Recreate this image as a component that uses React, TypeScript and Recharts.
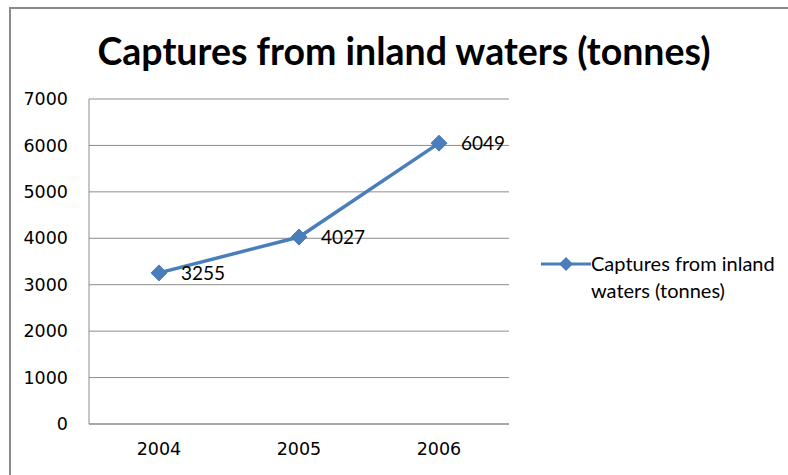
import { LineChart, Line, XAxis, YAxis, CartesianGrid, LabelList } from 'recharts';

const years = ['2004', '2005', '2006'];
const captures = [3255, 4027, 6049];
const yTicks = [0, 1000, 2000, 3000, 4000, 5000, 6000, 7000];

const SERIES_NAME = 'Captures from inland waters (tonnes)';
const BLUE = '#4A7EBB';

const data = years.map((year, i) => ({ year, value: captures[i] }));

const Diamond = (props: any) => {
  const { cx, cy } = props;
  if (cx == null || cy == null) return null;
  const r = 8;
  return (
    <path
      d={`M${cx},${cy - r} L${cx + r},${cy} L${cx},${cy + r} L${cx - r},${cy} Z`}
      fill={BLUE}
      stroke={BLUE}
    />
  );
};

// legend drawn outside the chart so it doesn't eat into the plot area
const ChartLegend = () => (
  <div
    style={{
      position: 'absolute',
      left: 541,
      top: 250,
      width: 247,
      display: 'flex',
      alignItems: 'flex-start',
      fontFamily: 'Lato, sans-serif',
      fontSize: 20,
      color: '#000',
    }}
  >
    <svg width={50} height={20} style={{ marginTop: 4, flexShrink: 0 }}>
      <line x1={0} y1={10} x2={50} y2={10} stroke={BLUE} strokeWidth={3} />
      <path d="M25,3 L32,10 L25,17 L18,10 Z" fill={BLUE} />
    </svg>
    <div style={{ lineHeight: '27px', marginTop: 0, whiteSpace: 'nowrap' }}>
      Captures from inland
      <br />
      waters (tonnes)
    </div>
  </div>
);

export default function App() {
  return (
    <div style={{ position: 'fixed', left: 0, top: 0, width: 788, height: 475, overflow: 'hidden', background: '#fff' }}>
      <div
        style={{
          position: 'absolute',
          left: 9,
          top: 7,
          width: 820,
          height: 520,
          borderLeft: '2px solid #8a8a8a',
          borderTop: '2px solid #8a8a8a',
        }}
      />
      <div
        style={{
          position: 'absolute',
          left: 0,
          top: 28,
          width: 808,
          textAlign: 'center',
          fontFamily: 'Lato, sans-serif',
          fontWeight: 'bold',
          fontSize: 37.5,
          color: '#000',
        }}
      >
        {SERIES_NAME}
      </div>
      <div style={{ position: 'absolute', left: 0, top: 0 }}>
        <LineChart width={788} height={475} data={data} margin={{ top: 99, right: 279, bottom: 0, left: 0 }}>
          <CartesianGrid vertical={false} stroke="#8c8c8c" strokeWidth={1} />
          <XAxis
            dataKey="year"
            scale="band"
            height={51}
            tickLine={false}
            tickSize={0}
            tickMargin={19}
            axisLine={{ stroke: '#8c8c8c' }}
            tick={{ fill: '#000', fontFamily: 'DejaVu Sans', fontSize: 17.5 }}
          />
          <YAxis
            width={89}
            domain={[0, 7000]}
            ticks={yTicks}
            tickLine={false}
            tickSize={0}
            tickMargin={21}
            axisLine={{ stroke: '#8c8c8c' }}
            tick={{ fill: '#000', fontFamily: 'DejaVu Sans', fontSize: 17.5 }}
          />
          <Line
            type="linear"
            dataKey="value"
            name={SERIES_NAME}
            stroke={BLUE}
            strokeWidth={3.5}
            dot={<Diamond />}
            activeDot={false}
            isAnimationActive={false}
          >
            <LabelList
              dataKey="value"
              position="right"
              offset={22}
              style={{ fill: '#000', fontFamily: 'Lato, sans-serif', fontSize: 19 }}
            />
          </Line>
        </LineChart>
      </div>
      <ChartLegend />
    </div>
  );
}
